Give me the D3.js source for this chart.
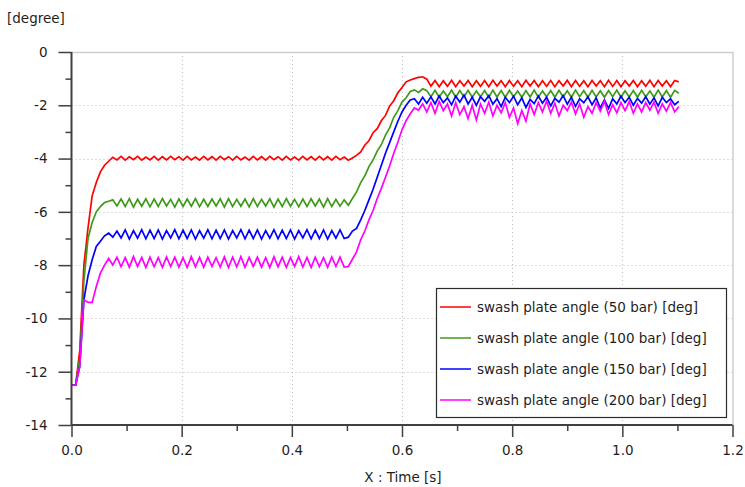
<!DOCTYPE html>
<html>
<head>
<meta charset="utf-8">
<script src="https://cdn.jsdelivr.net/npm/d3@7"></script>
<style>
  html, body { margin: 0; padding: 0; background: #ffffff; }
  svg { display: block; font-family: "DejaVu Sans", sans-serif; }
</style>
</head>
<body>
<svg id="chart" width="745" height="487"></svg>
<script>
// Swash plate angle responses, sampled every 7.5 ms from t = 0 s.
const sampleStep = 0.0075;

const seriesNames = [
  "swash plate angle (50 bar) [deg]",
  "swash plate angle (100 bar) [deg]",
  "swash plate angle (150 bar) [deg]",
  "swash plate angle (200 bar) [deg]"
];
const seriesColors = ["#ff0000", "#3f9a1a", "#0000ff", "#ff00ff"];

const angle50 = [
  -12.5, -12.5, -11.2, -8.0, -6.6, -5.4, -4.9, -4.5, -4.25, -4.1, -3.95,
  -4.05, -3.92, -4.06, -3.93, -4.04, -3.92, -4.06, -3.94, -4.05, -3.92,
  -4.06, -3.93, -4.05, -3.92, -4.04, -3.93, -4.06, -3.92, -4.05, -3.94,
  -4.06, -3.92, -4.05, -3.93, -4.06, -3.92, -4.04, -3.93, -4.06, -3.92,
  -4.05, -3.94, -4.06, -3.92, -4.05, -3.93, -4.06, -3.92, -4.04, -3.93,
  -4.06, -3.92, -4.05, -3.94, -4.06, -3.92, -4.05, -3.93, -4.06, -3.92,
  -4.05, -3.93, -4.06, -3.92, -4.04, -3.94, -4.06,
  -3.98, -3.88, -3.75, -3.5, -3.33, -3.03, -2.88, -2.58, -2.38, -2.03,
  -1.83, -1.53, -1.33, -1.12, -1.05, -1.0, -0.95, -0.93,
  -1.02,
  -1.28, -1.07, -1.3, -1.08, -1.29, -1.06, -1.3, -1.08, -1.28, -1.07,
  -1.3, -1.08, -1.29, -1.07, -1.3, -1.06, -1.28, -1.08, -1.3, -1.07,
  -1.29, -1.08, -1.3, -1.06, -1.28, -1.07, -1.3, -1.08, -1.29, -1.07,
  -1.3, -1.08, -1.28, -1.06, -1.3, -1.07, -1.29, -1.08, -1.3, -1.07,
  -1.28, -1.08, -1.3, -1.06, -1.29, -1.07, -1.3, -1.08, -1.28, -1.07,
  -1.3, -1.08, -1.29, -1.06, -1.3, -1.07, -1.28, -1.08, -1.3, -1.07,
  -1.12
];

const angle100 = [
  -12.5, -12.5, -11.5, -8.6, -7.0, -6.4, -6.0, -5.8, -5.65, -5.6, -5.55,
  -5.78, -5.52, -5.8, -5.5, -5.82, -5.53, -5.79, -5.51, -5.81, -5.52,
  -5.8, -5.5, -5.78, -5.53, -5.82, -5.51, -5.8, -5.52, -5.79, -5.5,
  -5.81, -5.53, -5.8, -5.52, -5.78, -5.51, -5.82, -5.5, -5.8, -5.53,
  -5.79, -5.52, -5.81, -5.5, -5.8, -5.53, -5.78, -5.51, -5.82, -5.52,
  -5.8, -5.5, -5.79, -5.53, -5.81, -5.52, -5.8, -5.51, -5.78, -5.52,
  -5.82, -5.5, -5.8, -5.53, -5.79, -5.55,
  -5.75, -5.5, -5.25, -4.9, -4.65, -4.3, -4.05, -3.72, -3.48, -3.12,
  -2.85, -2.45, -2.2, -1.88, -1.72, -1.48, -1.42, -1.52, -1.38,
  -1.45, -1.68, -1.44, -1.7, -1.46, -1.68, -1.43, -1.7, -1.45, -1.69,
  -1.44, -1.7, -1.46, -1.68, -1.45, -1.7, -1.43, -1.69, -1.45, -1.7,
  -1.44, -1.68, -1.46, -1.7, -1.45, -1.69, -1.43, -1.7, -1.46, -1.68,
  -1.45, -1.7, -1.44, -1.69, -1.46, -1.7, -1.43, -1.68, -1.45, -1.7,
  -1.44, -1.69, -1.46, -1.7, -1.45, -1.68, -1.43, -1.7, -1.46, -1.69,
  -1.45, -1.7, -1.44, -1.68, -1.46, -1.7, -1.43, -1.69, -1.45, -1.7,
  -1.44, -1.55
];

const angle150 = [
  -12.5, -12.5, -11.8, -9.3, -8.4, -7.8, -7.3, -7.1, -6.9, -6.8, -6.95,
  -6.72, -6.98, -6.68, -7.02, -6.7, -6.99, -6.67, -7.01, -6.69, -7.0,
  -6.68, -7.02, -6.7, -6.98, -6.67, -7.01, -6.69, -7.0, -6.68, -7.02,
  -6.7, -6.99, -6.67, -7.01, -6.69, -7.0, -6.68, -7.02, -6.7, -6.98,
  -6.67, -7.01, -6.69, -7.0, -6.68, -7.02, -6.7, -6.99, -6.67, -7.01,
  -6.69, -7.0, -6.68, -7.02, -6.7, -6.98, -6.67, -7.01, -6.69, -7.0,
  -6.68, -7.02, -6.7, -6.99, -6.68, -7.0,
  -6.95, -6.72, -6.62, -6.3, -5.95, -5.55, -5.15, -4.7, -4.25, -3.8,
  -3.4, -3.0, -2.6, -2.25, -2.0, -1.8, -1.75, -1.95, -1.7,
  -1.92, -1.68, -1.95, -1.65, -1.9, -1.72, -1.98, -1.66, -1.88, -1.62,
  -1.95, -1.7, -2.0, -1.68, -1.85, -1.64, -1.96, -1.75, -2.05, -1.7,
  -1.9, -1.66, -1.98, -1.72, -2.08, -1.78, -1.94, -1.65, -1.92, -1.7,
  -2.02, -1.74, -1.88, -1.63, -1.96, -1.7, -2.04, -1.76, -1.9, -1.68,
  -1.98, -1.72, -2.1, -1.8, -2.12, -1.75, -1.95, -1.66, -1.9, -1.7,
  -2.0, -1.74, -1.92, -1.68, -1.96, -1.72, -2.02, -1.7, -1.9, -1.76,
  -1.98, -1.85
];

const angle200 = [
  -12.5, -12.5, -11.8, -9.3, -9.4, -9.4, -8.8, -8.3, -8.0, -7.75, -8.0,
  -7.7, -8.06, -7.72, -8.08, -7.68, -8.05, -7.71, -8.09, -7.7, -8.06,
  -7.72, -8.08, -7.69, -8.05, -7.7, -8.07, -7.72, -8.09, -7.68, -8.06,
  -7.71, -8.08, -7.7, -8.05, -7.72, -8.07, -7.69, -8.09, -7.7, -8.06,
  -7.68, -8.08, -7.71, -8.05, -7.7, -8.07, -7.72, -8.09, -7.69, -8.06,
  -7.7, -8.08, -7.72, -8.05, -7.68, -8.07, -7.71, -8.09, -7.7, -8.06,
  -7.72, -8.08, -7.69, -8.05, -7.7, -8.07,
  -8.05, -7.78, -7.5, -7.05, -6.72, -6.3, -5.95, -5.5, -5.12, -4.7,
  -4.28, -3.8, -3.38, -2.92, -2.58, -2.32, -2.1, -2.18, -1.95,
  -2.25, -1.9, -2.3, -1.85, -2.2, -1.95, -2.4, -1.9, -2.35, -2.05,
  -2.5, -2.0, -2.55, -1.95, -2.3, -1.88, -2.4, -2.0, -2.28, -1.9,
  -2.45, -2.1, -2.68, -2.2, -2.6, -1.95, -2.35, -1.9, -2.25, -1.85,
  -2.3, -1.92, -2.4, -2.0, -2.2, -1.88, -2.32, -1.95, -2.45, -2.05,
  -2.3, -1.9, -2.22, -1.85, -2.35, -1.98, -2.28, -1.9, -2.2, -1.86,
  -2.3, -1.95, -2.25, -1.9, -2.18, -1.88, -2.3, -1.95, -2.22, -1.9,
  -2.25, -2.05
];

const seriesValues = [angle50, angle100, angle150, angle200];

const xMajorTicks = [0, 0.2, 0.4, 0.6, 0.8, 1.0, 1.2];
const xMinorTicks = [0.1, 0.3, 0.5, 0.7, 0.9, 1.1];
const yMajorTicks = [-14, -12, -10, -8, -6, -4, -2, 0];
const yMinorTicks = [-13, -11, -9, -7, -5, -3, -1];

const yAxisTitle = "[degree]";
const xAxisTitle = "X : Time [s]";

// ---- layout ----
const svg = d3.select("#chart");
const plot = { left: 71.5, right: 732.5, top: 52, bottom: 425 };

const x = d3.scaleLinear().domain([0, 1.2]).range([plot.left, plot.right]);
const y = d3.scaleLinear().domain([-14, 0]).range([plot.bottom, plot.top]);

const axisColor = "#404040";
const textColor = "#1e1e1e";

// dotted grid
const grid = svg.append("g").attr("stroke", "#bdbdbd").attr("stroke-width", 1)
  .attr("stroke-dasharray", "1,3");
grid.selectAll("line.vx").data(xMajorTicks.filter(d => d > 0 && d < 1.2)).join("line")
  .attr("x1", d => Math.round(x(d)) + 0.5).attr("x2", d => Math.round(x(d)) + 0.5)
  .attr("y1", plot.top).attr("y2", plot.bottom);
grid.selectAll("line.hy").data(yMajorTicks.filter(d => d > -14 && d < 0)).join("line")
  .attr("x1", plot.left).attr("x2", plot.right)
  .attr("y1", d => Math.round(y(d)) + 0.5).attr("y2", d => Math.round(y(d)) + 0.5);

// light frame on top and right
svg.append("path")
  .attr("d", `M${plot.left},${plot.top + 0.5}H${plot.right + 0.5}V${plot.bottom}`)
  .attr("fill", "none").attr("stroke", "#cfcfcf").attr("stroke-width", 1.5);

// series
const line = d3.line()
  .x((d, i) => x(i * sampleStep))
  .y(d => y(d));

const lines = svg.append("g").attr("fill", "none").attr("stroke-width", 1.7)
  .attr("stroke-linejoin", "miter");
seriesValues.forEach((vals, k) => {
  lines.append("path").datum(vals)
    .attr("stroke", seriesColors[k])
    .attr("d", line);
});

// axes
function styleAxis(g) {
  g.select(".domain").remove();
  g.selectAll(".tick line").attr("stroke", axisColor).attr("stroke-width", 1.5);
  g.selectAll(".tick text").attr("fill", textColor).attr("font-size", "13.5px")
    .attr("font-family", "DejaVu Sans, sans-serif");
}

svg.append("g").attr("transform", `translate(${plot.left},0)`)
  .call(d3.axisLeft(y).tickValues(yMajorTicks).tickSize(13).tickPadding(11)
    .tickFormat(d => String(d)))
  .call(styleAxis);
svg.append("g").attr("transform", `translate(${plot.left},0)`)
  .call(d3.axisLeft(y).tickValues(yMinorTicks).tickSize(6).tickFormat(""))
  .call(styleAxis);

svg.append("g").attr("transform", `translate(0,${plot.bottom})`)
  .call(d3.axisBottom(x).tickValues(xMajorTicks).tickSize(12).tickPadding(8)
    .tickFormat(d3.format(".1f")))
  .call(styleAxis);
svg.append("g").attr("transform", `translate(0,${plot.bottom})`)
  .call(d3.axisBottom(x).tickValues(xMinorTicks).tickSize(6).tickFormat(""))
  .call(styleAxis);

// axis lines
svg.append("line").attr("x1", plot.left).attr("x2", plot.left)
  .attr("y1", plot.top).attr("y2", plot.bottom)
  .attr("stroke", axisColor).attr("stroke-width", 2);
svg.append("line").attr("x1", plot.left).attr("x2", plot.right)
  .attr("y1", plot.bottom).attr("y2", plot.bottom)
  .attr("stroke", axisColor).attr("stroke-width", 2);

// axis titles
svg.append("text").attr("x", 7).attr("y", 23)
  .attr("font-size", "13.5px").attr("fill", textColor).text(yAxisTitle);
svg.append("text").attr("x", (plot.left + plot.right) / 2 + 1).attr("y", 482)
  .attr("text-anchor", "middle").attr("font-size", "13.5px").attr("fill", textColor)
  .text(xAxisTitle);

// legend
const legend = svg.append("g").attr("transform", "translate(436,288)");
legend.append("rect").attr("x", 0.5).attr("y", 0.5).attr("width", 290).attr("height", 129)
  .attr("fill", "#ffffff").attr("stroke", "#2a2a2a").attr("stroke-width", 1.2);
const rows = legend.selectAll("g.row").data(seriesNames).join("g")
  .attr("transform", (d, i) => `translate(0,${19 + i * 31})`);
rows.append("line").attr("x1", 4).attr("x2", 35).attr("y1", 0).attr("y2", 0)
  .attr("stroke", (d, i) => seriesColors[i]).attr("stroke-width", 1.5);
rows.append("text").attr("x", 41).attr("y", 0).attr("dy", "0.35em")
  .attr("font-size", "13.5px").attr("fill", textColor).text(d => d);
</script>
</body>
</html>
